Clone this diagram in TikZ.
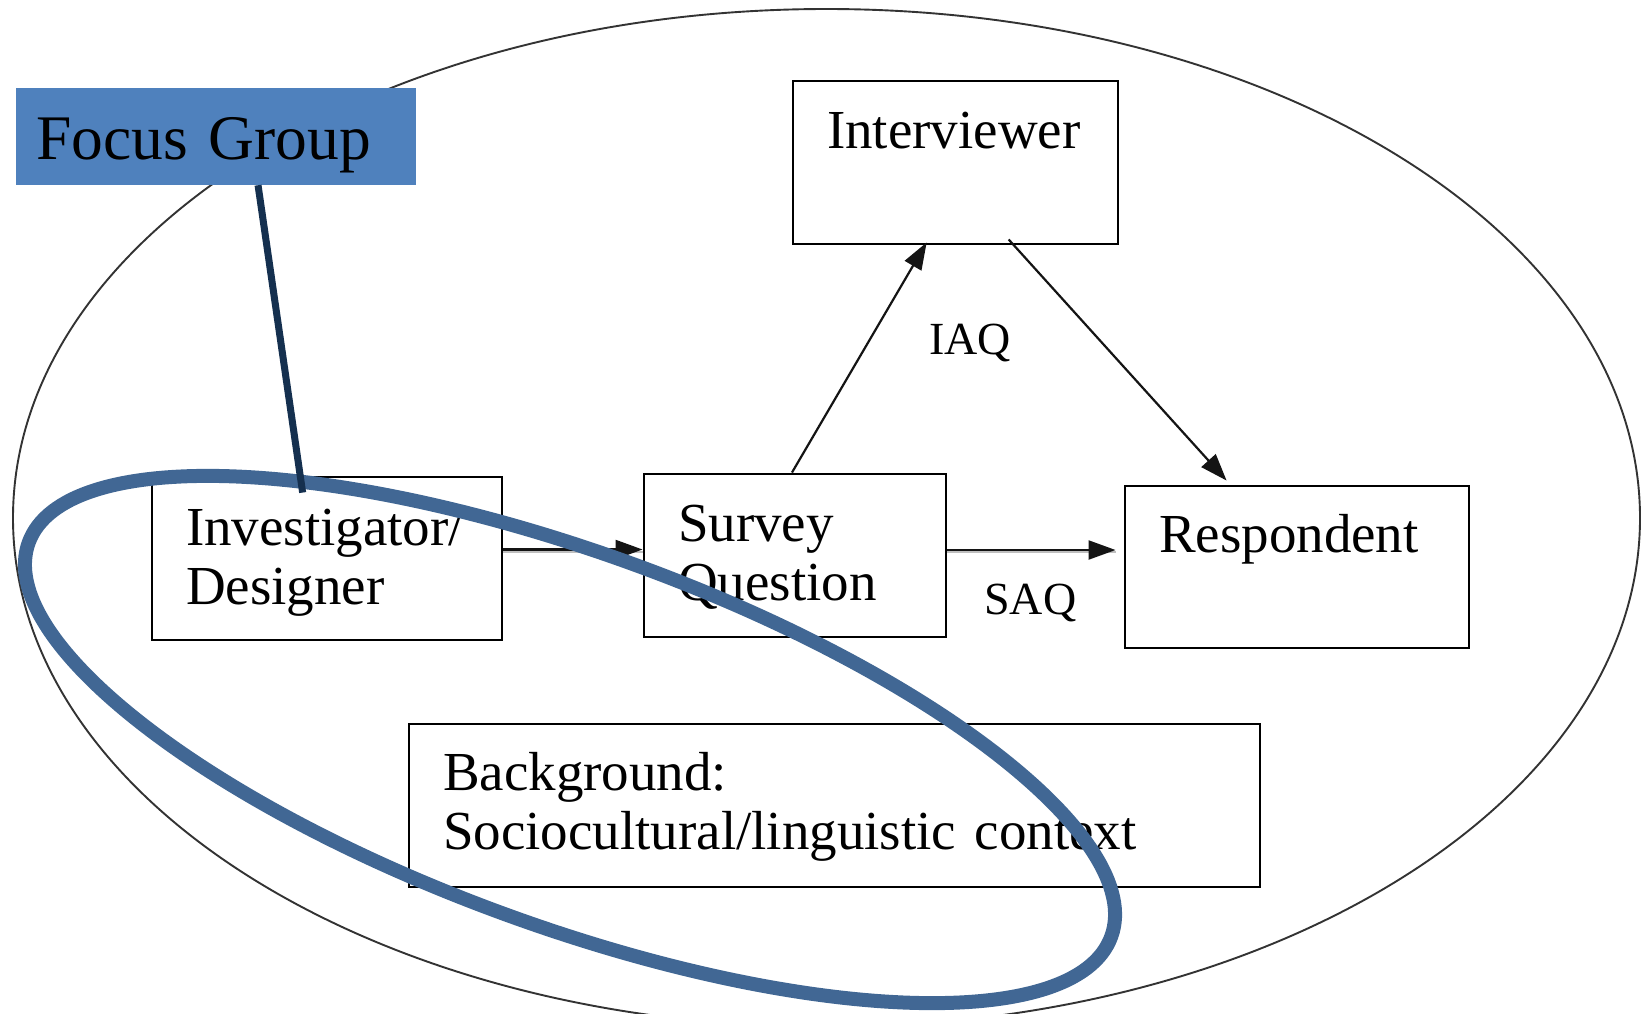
\documentclass[tikz,border=0pt]{standalone}
\usepackage{fontspec}
\setmainfont[WordSpace=0.75]{Liberation Serif}
\usetikzlibrary{arrows.meta,calc}

\definecolor{fgfill}{HTML}{4F81BD}
\definecolor{ringblue}{HTML}{416794}
\definecolor{navyline}{HTML}{15304F}

\newcommand{\boxtextfont}{\fontsize{55}{59}\selectfont}
\newcommand{\focustextfont}{\fontsize{63.5}{70}\selectfont}

\tikzset{
  box/.style={draw=black, line width=2.9pt, align=left, inner ysep=0pt,
    inner xsep=34pt, font=\boxtextfont},
  lbl/.style={inner sep=0pt, anchor=base west, font=\fontsize{46}{50}\selectfont},
  arr/.style={line width=2.2pt, draw=black!92, -{Triangle[length=27pt,width=19pt]}},
  harr/.style={arr, preaction={draw=black!25, line width=2pt, -,
    transform canvas={yshift=-2.2pt}}},
  outerring/.style={line width=1.9pt, draw=black!80},
  focusring/.style={line width=14pt, draw=ringblue},
  focuslink/.style={line width=7pt, draw=navyline},
}

\begin{document}
\begin{tikzpicture}[x=1pt, y=-1pt]
  \clip (0,0) rectangle (1648,1013);

  % surrounding context ellipse
  \draw[outerring] (826.5,518) ellipse [x radius=813.5pt, y radius=509pt];

  % boxes
  \node[box, minimum width=325pt, text width=257pt, text height=67pt, text depth=96pt]
    (iv) at (955.5,162.5) {Interviewer};
  \node[box, minimum width=350pt, text width=282pt, text height=68pt, text depth=95pt]
    (inv) at (327,558.5) {Investigator/\\Designer};
  \node[box, minimum width=302pt, text width=234pt, text height=67pt, text depth=96pt]
    (sq) at (795,555.5) {Survey\\Question};
  \node[box, minimum width=344pt, text width=276pt, text height=66pt, text depth=96pt]
    (resp) at (1297,567) {Respondent};
  \node[box, minimum width=851pt, text width=783pt, inner xsep=33pt, text height=66pt, text depth=97pt]
    (bg) at (834.5,805.5) {Background:\\Sociocultural/linguistic context};

  % connectors
  \coordinate (a1) at ($(inv.east)+(0,9pt)$);
  \draw[harr] (a1) -- (a1 -| sq.west);
  \coordinate (a2) at ($(sq.east)+(0,5.5pt)$);
  \coordinate (a2e) at ($(a2 -| resp.west)+(-8pt,0)$);
  \draw[harr] (a2) -- (a2e);
  \draw[arr] ($(sq.north west)!0.49!(sq.north east)$)
          -- ($(iv.south west)!0.412!(iv.south east)+(0,3pt)$);
  \draw[arr] ($(iv.south west)!0.662!(iv.south east)+(0,6pt)$)
          -- ($(resp.north west)!0.297!(resp.north east)+(0,4pt)$);

  % connector labels
  \node[lbl] (iaq) at (929,354) {IAQ};
  \node[lbl] (saq) at (984,614) {SAQ};

  % focus group ring
  \draw[focusring, rotate around={-20:(570,739.5)}]
    (570,739.5) ellipse [x radius=576pt, y radius=186.4pt];

  % focus group label and its link
  \node[fill=fgfill, minimum width=400pt, text width=360pt, inner xsep=20pt,
        inner ysep=0pt, align=left, text height=71pt, text depth=26pt,
        font=\focustextfont] (fg) at (216,136.5) {Focus Group};
  \draw[focuslink] ($(fg.south west)!0.605!(fg.south east)$)
    -- ($(inv.north west)!0.431!(inv.north east)+(0,-17pt)$);
\end{tikzpicture}
\end{document}
